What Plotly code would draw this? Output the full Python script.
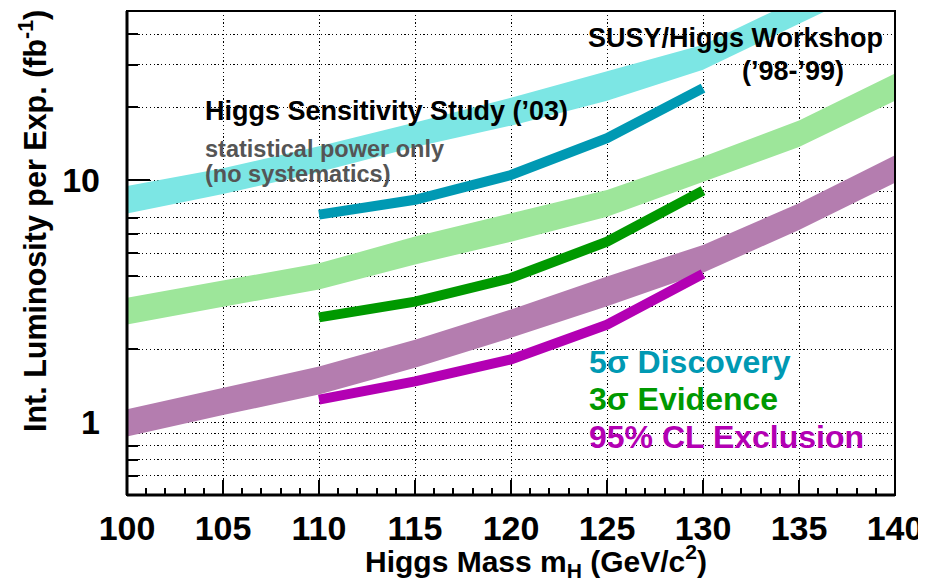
import plotly.graph_objects as go

# ---------------- data ----------------
mass_band = [100, 105, 110, 115, 120, 125, 130, 135, 140]
susy_5s_hi = [9.45, 11.2, 13.8, 17.3, 21.9, 28.1, 36.3, 56.1, 86.8]
susy_5s_lo = [7.28, 8.76, 10.8, 13.7, 16.8, 21.3, 28.6, 44.3, 68.5]
susy_3s_hi = [3.27, 3.84, 4.53, 5.85, 7.29, 9.10, 12.5, 17.65, 27.6]
susy_3s_lo = [2.53, 3.00, 3.53, 4.48, 5.57, 7.06, 9.84, 13.7, 21.3]
susy_95_hi = [1.13, 1.39, 1.70, 2.19, 2.92, 4.00, 5.40, 8.02, 12.67]
susy_95_lo = [0.873, 1.07, 1.30, 1.68, 2.23, 3.01, 4.14, 6.23, 9.75]

mass_03 = [110, 115, 120, 125, 130]
hss_5s = [7.2, 8.3, 10.5, 14.9, 24.0]
hss_3s = [2.71, 3.15, 3.94, 5.57, 9.05]
hss_95 = [1.24, 1.475, 1.816, 2.53, 4.10]

x_ticks = [100, 105, 110, 115, 120, 125, 130, 135, 140]
y_major = [1, 10]
y_major_text = ["1", "10"]
y_minor = [0.6, 0.7, 0.8, 0.9, 2, 3, 4, 5, 6, 7, 8, 9, 20, 30, 40]

# ---------------- style ----------------
FONT = "Liberation Sans, Arial, Helvetica, sans-serif"
C_CYAN_BAND = "rgb(124,230,228)"
C_GREEN_BAND = "rgb(157,230,154)"
C_PURPLE_BAND = "rgb(180,125,175)"
C_TEAL = "rgb(0,153,179)"
C_GREEN = "rgb(0,153,0)"
C_MAGENTA = "rgb(179,0,179)"

OFF = 8  # default page body margin
W, H = 926 - OFF, 587 - OFF
ML, MR, MT, MB = 127 - OFF, 31, 11 - OFF, 92
PW, PH = W - ML - MR, H - MT - MB


def xp(px):
    """page pixel -> paper fraction"""
    return (px - OFF - ML) / PW


def yp(py):
    return (H - MB - (py - OFF)) / PH


fig = go.Figure()


def band(lo, hi, color, name):
    fig.add_trace(go.Scatter(
        x=mass_band + mass_band[::-1],
        y=hi + lo[::-1],
        fill="toself", fillcolor=color,
        line=dict(width=0, color=color),
        mode="lines", hoverinfo="skip", name=name, showlegend=False,
    ))


band(susy_5s_lo, susy_5s_hi, C_CYAN_BAND, "SUSY/Higgs 5σ")
band(susy_3s_lo, susy_3s_hi, C_GREEN_BAND, "SUSY/Higgs 3σ")
band(susy_95_lo, susy_95_hi, C_PURPLE_BAND, "SUSY/Higgs 95% CL")

for yv, col, nm in [(hss_5s, C_TEAL, "5σ"), (hss_3s, C_GREEN, "3σ"),
                    (hss_95, C_MAGENTA, "95% CL")]:
    fig.add_trace(go.Scatter(
        x=mass_03, y=yv, mode="lines",
        line=dict(color=col, width=10),
        name=nm, showlegend=False, hoverinfo="skip",
    ))

grid_common = dict(gridcolor="black", gridwidth=1.2, griddash="1.2px,2.6px")

fig.update_xaxes(
    range=[100, 140], tickmode="array", tickvals=x_ticks,
    ticks="inside", ticklen=15, tickwidth=2, tickcolor="black",
    tickfont=dict(family=FONT, size=34, color="black", weight="bold"),
    ticklabelstandoff=10,
    showgrid=True, **grid_common,
    minor=dict(dtick=1, ticks="inside", ticklen=7, tickwidth=2,
               tickcolor="black", showgrid=False),
    showline=False, zeroline=False, layer="below traces",
    automargin=False,
)
fig.update_yaxes(
    type="log", range=[-0.30103, 1.69897],
    tickmode="array", tickvals=y_major, ticktext=y_major_text,
    ticks="inside", ticklen=23, tickwidth=2, tickcolor="black",
    tickfont=dict(family=FONT, size=34, color="black", weight="bold"),
    ticklabelstandoff=26,
    showgrid=True, **grid_common,
    minor=dict(tickvals=y_minor, ticks="inside", ticklen=11, tickwidth=2,
               tickcolor="black", showgrid=True, gridcolor="black",
               gridwidth=1.2, griddash="1.2px,2.6px"),
    showline=False, zeroline=False, layer="below traces",
    automargin=False,
)

shapes = [
    dict(type="rect", xref="paper", yref="paper", x0=0, y0=0, x1=1, y1=1,
         line=dict(color="black", width=2), layer="above"),
    dict(type="line", xref="paper", yref="paper", x0=0, y0=0, x1=0, y1=1,
         line=dict(color="black", width=3), layer="above"),
    dict(type="line", xref="paper", yref="paper", x0=0, y0=0, x1=1, y1=0,
         line=dict(color="black", width=3), layer="above"),
]


def ann(text, px, py, size, color="black", xanchor="left", angle=0):
    return dict(text=text, x=xp(px), y=yp(py), xref="paper", yref="paper",
                xanchor=xanchor, yanchor="middle", showarrow=False,
                textangle=angle,
                font=dict(family=FONT, size=size, color=color, weight="bold"))


annotations = [
    ann("Higgs Sensitivity Study (’03)", 203, 111, 27),
    ann("statistical power only", 203, 149, 23.5, "rgb(85,85,85)"),
    ann("(no systematics)", 203, 174, 23.5, "rgb(85,85,85)"),
    ann("SUSY/Higgs Workshop", 586, 38, 27),
    ann("(’98-’99)", 740, 71, 27),
    ann("5σ Discovery", 587, 362, 32, C_TEAL),
    ann("3σ Evidence", 587, 399, 32, C_GREEN),
    ann("95% CL Exclusion", 587, 437, 32, C_MAGENTA),
    ann("Higgs Mass m<sub>H</sub> (GeV/c<sup>2</sup>)", 536, 561, 30,
        xanchor="center"),
    ann("Int. Luminosity per Exp. (fb<sup>-1</sup>)", 33, 221, 30.5,
        xanchor="center", angle=-90),
]

fig.update_layout(
    width=W, height=H, margin=dict(l=ML, r=MR, t=MT, b=MB, autoexpand=False),
    paper_bgcolor="white", plot_bgcolor="white",
    showlegend=False, shapes=shapes, annotations=annotations,
    font=dict(family=FONT),
)

fig.write_html("out.html")
